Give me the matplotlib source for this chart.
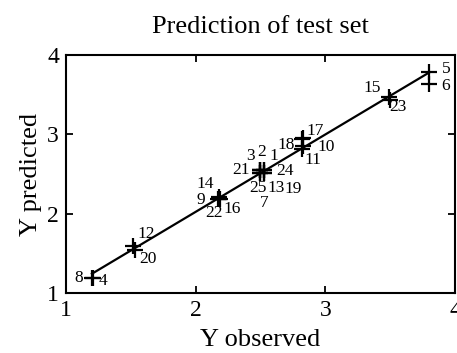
import numpy as np
import matplotlib
matplotlib.use("Agg")
import matplotlib.pyplot as plt

# Test-set samples: observed vs predicted response
sample_ids = list(range(1, 26))
y_observed = [2.53, 2.50, 2.50, 1.21, 3.80, 3.80, 2.50, 1.20, 2.17, 2.83,
              2.82, 1.52, 2.53, 2.18, 3.49, 2.19, 2.83, 2.82, 2.53, 1.53,
              2.50, 2.18, 3.50, 2.53, 2.50]
y_predicted = [2.55, 2.55, 2.55, 1.19, 3.79, 3.64, 2.51, 1.19, 2.19, 2.85,
               2.82, 1.59, 2.51, 2.21, 3.47, 2.18, 2.96, 2.94, 2.51, 1.54,
               2.55, 2.18, 3.43, 2.55, 2.51]

# Label placement around each marker (pixels: right, up)
label_offsets = [(9, 14), (1, 18), (-10, 14), (10, -3), (17, 3), (17, -2),
                 (4, -30), (-13, 0), (-17, -1), (23, -1), (11, -11), (13, 12),
                 (12, -15), (-14, 13), (-17, 9), (12, -10), (12, 7), (-16, -6),
                 (29, -16), (13, -9), (-19, 0), (-5, -14), (8, -7), (21, -1),
                 (-3, -15)]

x_ticks = [1, 2, 3, 4]
y_ticks = [1, 2, 3, 4]

plt.rcParams["font.family"] = ["Liberation Serif", "DejaVu Serif"]

fig = plt.figure(figsize=(4.57, 3.53), dpi=100)
ax = fig.add_axes([0.1444, 0.170, 0.8512, 0.674])

xo = np.array(y_observed)
yp = np.array(y_predicted)

# least-squares fit line across the observed range
slope, intercept = np.polyfit(xo, yp, 1)
xl = np.array([xo.min(), xo.max()])
ax.plot(xl, slope * xl + intercept, color="black", lw=1.6, zorder=2)

ax.plot(xo, yp, linestyle="none", marker="+", markersize=11,
        markeredgewidth=1.6, color="black", zorder=3)

for sid, x, y, (dx, dy) in zip(sample_ids, xo, yp, label_offsets):
    ax.annotate(str(sid), (x, y), xytext=(dx, dy), textcoords="offset pixels",
                ha="center", va="center", fontsize=12.5, color="black")

ax.set_xlim(1, 4)
ax.set_ylim(1, 4)
ax.set_xticks(x_ticks)
ax.set_yticks(y_ticks)
ax.set_xticklabels([str(t) for t in x_ticks])
ax.set_yticklabels([str(t) for t in y_ticks])
ax.tick_params(direction="in", top=True, right=True, length=5, width=1.3,
               labelsize=17, pad=5)
for s in ax.spines.values():
    s.set_linewidth(1.5)

ax.set_title("Prediction of test set", fontsize=19, pad=16)
ax.set_xlabel("Y observed", fontsize=19, labelpad=6)
ax.set_ylabel("Y predicted", fontsize=19, labelpad=4)

fig.savefig("out.png", dpi=100)
